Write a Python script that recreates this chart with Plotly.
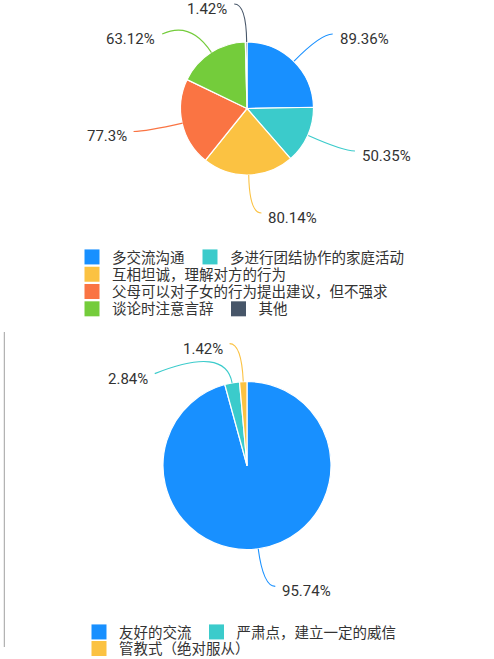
import math
import plotly.graph_objects as go

# ---------------- data ----------------
cats1 = ["多交流沟通", "多进行团结协作的家庭活动", "互相坦诚，理解对方的行为",
         "父母可以对子女的行为提出建议，但不强求", "谈论时注意言辞", "其他"]
vals1 = [89.36, 50.35, 80.14, 77.3, 63.12, 1.42]
labels1 = ["89.36%", "50.35%", "80.14%", "77.3%", "63.12%", "1.42%"]
colors1 = ["#1890FF", "#3BCBCB", "#FBC242", "#FA7443", "#74CC3B", "#475669"]
legend_rows1 = [[0, 1], [2], [3], [4, 5]]

cats2 = ["友好的交流", "严肃点，建立一定的威信", "管教式（绝对服从）"]
vals2 = [95.74, 2.84, 1.42]
labels2 = ["95.74%", "2.84%", "1.42%"]
colors2 = ["#1890FF", "#3BCBCB", "#FBC242"]
legend_rows2 = [[0, 1], [2]]

# ---------------- layout constants ----------------
W, H = 494, 659
FONT = "Roboto, Noto Sans CJK SC, sans-serif"
TXT = "#333333"

pies = [
    dict(cats=cats1, vals=vals1, labels=labels1, colors=colors1, rows=legend_rows1,
         cx=247.5, cy=108.5, r=66.5, leg_x=72, leg_y0=257, leg_dy=17.3),
    dict(cats=cats2, vals=vals2, labels=labels2, colors=colors2, rows=legend_rows2,
         cx=247, cy=465.5, r=84, leg_x=79, leg_y0=632, leg_dy=16.5),
]

fig = go.Figure()
shapes, annotations = [], []
legend_layouts = {}
leg_idx = 0


def px(x, y):
    """pixel -> paper coordinates"""
    return x / W, 1 - y / H


for p in pies:
    cx, cy, r = p["cx"], p["cy"], p["r"]
    _, y0 = px(cx, cy + r)
    _, y1 = px(cx, cy - r)
    fig.add_trace(go.Pie(
        labels=p["cats"], values=p["vals"], sort=False, direction="clockwise",
        rotation=0, marker=dict(colors=p["colors"], line=dict(color="white", width=1.2)),
        textinfo="none", hoverinfo="skip", showlegend=False,
        domain=dict(x=[0, 1], y=[y0, y1]),
    ))

    # ---- outside labels with leader lines (ECharts style) ----
    L1, L2, GAP, TDY = 38, 12, 30, 5
    total = sum(p["vals"])
    cum = 0
    items = []
    for i, v in enumerate(p["vals"]):
        mid = (cum + v / 2) / total * 2 * math.pi
        cum += v
        s, c = math.sin(mid), math.cos(mid)
        items.append(dict(
            i=i, side=1 if s >= 0 else -1,
            p0=(cx + r * s, cy - r * c),
            p1=(cx + (r + L1) * s, cy - (r + L1) * c),
        ))
    for side in (1, -1):
        grp = sorted([it for it in items if it["side"] == side], key=lambda it: it["p1"][1])
        last = -1e9
        for it in grp:
            it["y"] = max(it["p1"][1], last + GAP)
            last = it["y"]
    R = r + L1
    for it in items:
        dy = it["y"] - cy
        dx = math.sqrt(max(R * R - dy * dy, 0))
        bx = cx + it["side"] * dx
        ex = bx + it["side"] * L2
        ey = it["y"]
        a = px(*it["p0"]); b = px(*it["p1"]); e = px(ex, ey)
        shapes.append(dict(
            type="path", xref="paper", yref="paper",
            path=f"M {a[0]},{a[1]} Q {b[0]},{b[1]} {e[0]},{e[1]}",
            line=dict(color=p["colors"][it["i"]], width=1.1),
        ))
        t = px(ex + it["side"] * 5, ey + TDY)
        annotations.append(dict(
            x=t[0], y=t[1], xref="paper", yref="paper", text=p["labels"][it["i"]],
            showarrow=False, xanchor="left" if it["side"] > 0 else "right", yanchor="middle",
            font=dict(family=FONT, size=15, color=TXT),
        ))

    # ---- legends: one horizontal legend per row ----
    for k, row in enumerate(p["rows"]):
        leg_idx += 1
        lname = "legend" if leg_idx == 1 else f"legend{leg_idx}"
        for i in row:
            fig.add_trace(go.Scatter(
                x=[None], y=[None], mode="markers", name=p["cats"][i],
                marker=dict(symbol="square", size=15, color=p["colors"][i]),
                legend=lname, showlegend=True, hoverinfo="skip",
            ))
        lx, ly = px(p["leg_x"], p["leg_y0"] + k * p["leg_dy"])
        legend_layouts[lname] = dict(
            orientation="h", x=lx, xanchor="left", y=ly, yanchor="middle",
            bgcolor="rgba(0,0,0,0)", font=dict(family=FONT, size=14.5, color=TXT),
            itemclick=False, itemdoubleclick=False, traceorder="normal",
        )

# thin grey border line seen at the left edge of the lower panel
bx0, by0 = px(4.3, 332)
bx1, by1 = px(4.3, 647)
shapes.append(dict(type="line", xref="paper", yref="paper", x0=bx0, x1=bx1, y0=by0, y1=by1,
                   line=dict(color="#A0A0A0", width=1)))

fig.update_layout(
    width=W, height=H, margin=dict(l=0, r=0, t=0, b=0, autoexpand=False),
    paper_bgcolor="white", plot_bgcolor="white",
    shapes=shapes, annotations=annotations,
    xaxis=dict(visible=False), yaxis=dict(visible=False),
    **legend_layouts,
)
fig.write_html("out.html", config={"displayModeBar": False},
               post_script="document.body.style.margin='0px';")
